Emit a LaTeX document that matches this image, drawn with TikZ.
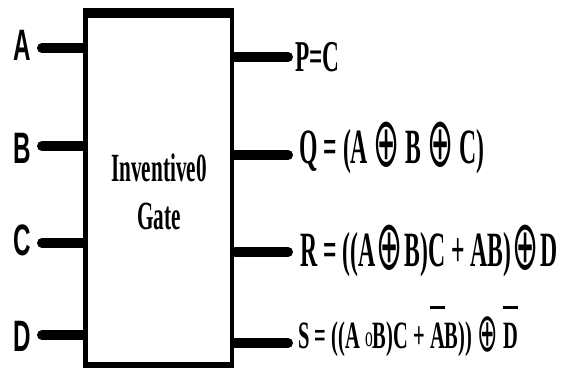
\documentclass[tikz,border=0pt]{standalone}
\usepackage{fontspec}
\usepackage{amsmath}
\usepackage{amssymb}
\usepackage{graphicx}
\setmainfont{Liberation Serif}
\newfontfamily\condserif[FakeStretch=0.48]{Liberation Serif}
\newfontfamily\gatefont[FakeStretch=0.53]{Liberation Serif}
\newfontfamily\pinfont[FakeStretch=0.55]{Liberation Sans}
\newfontfamily\xorfont[FakeStretch=0.55]{DejaVu Sans}
\usetikzlibrary{positioning}
\tikzset{
    gate/.style={rectangle, draw=black, line width=3.4pt, outer sep=0pt, inner sep=0pt, minimum width=109.7pt, minimum height=264pt},
    gatetext/.style={align=center, font=\gatefont\bfseries\fontsize{30}{36}\selectfont, inner sep=0pt},
    pinlabel/.style={font=\pinfont\bfseries\fontsize{33}{33}\selectfont, inner sep=0pt},
    outlabel/.style={anchor=base west, inner sep=0pt, font=\condserif\bfseries\fontsize{37}{37}\selectfont},
    wire/.style={line width=7.5pt, line cap=round, shorten <=2.2pt}
}
\newcommand{\xorop}{\raisebox{-0.08em}{\scalebox{1.15}[1.4]{\xorfont\mdseries ⊕}}}
\newcommand{\smallcirc}{\raisebox{0.05em}{{\fontsize{22}{22}\selectfont\mdseries o}}}
\newcommand{\barred}[1]{{\setbox0\hbox{#1}\rlap{\raisebox{1.02em}{\rule{\wd0}{1.7pt}}}\box0}}
\begin{document}
\begin{tikzpicture}[x=0.75pt, y=-0.75pt]
    \useasboundingbox (0,0) rectangle (571,369);
    % Gate box
    \node[gate] (gatebox) at (158.8,189) {};
    \draw[line width=7.5pt, shorten <=-1.7pt, shorten >=-1.7pt] (gatebox.north west) -- (gatebox.north east);
    \draw[line width=5pt, shorten <=-1.7pt, shorten >=-1.7pt] (gatebox.south west) -- (gatebox.south east);
    \node[gatetext] (gatename) at (159,192) {Inventive0\\Gate};

    % Input wires
    \coordinate (inA) at (42,48);
    \coordinate (inB) at (42,146);
    \coordinate (inC) at (42,243);
    \coordinate (inD) at (42,335);
    \coordinate (gateA) at (gatebox.west |- inA);
    \coordinate (gateB) at (gatebox.west |- inB);
    \coordinate (gateC) at (gatebox.west |- inC);
    \coordinate (gateD) at (gatebox.west |- inD);
    \foreach \p in {A,B,C,D} {
        \draw[wire] (gate\p) -- (in\p);
    }
    \node[pinlabel] (labelA) at (22.5,45) {A};
    \node[pinlabel] (labelB) at (22.5,148) {B};
    \node[pinlabel] (labelC) at (22.5,240) {C};
    \node[pinlabel] (labelD) at (22.5,336) {D};

    % Output wires
    \coordinate (outP) at (288,57);
    \coordinate (outQ) at (288,155);
    \coordinate (outR) at (288,252);
    \coordinate (outS) at (288,343);
    \coordinate (gateP) at (gatebox.east |- outP);
    \coordinate (gateQ) at (gatebox.east |- outQ);
    \coordinate (gateR) at (gatebox.east |- outR);
    \coordinate (gateS) at (gatebox.east |- outS);
    \foreach \p in {P,Q,R,S} {
        \draw[wire] (gate\p) -- (out\p);
    }

    % Output labels
    \node[outlabel, font=\gatefont\bfseries\fontsize{33}{33}\selectfont] (labelP) at (295,71) {P=C};
    \node[outlabel] (labelQ) at (299,163) {Q = (A \xorop\ B \xorop\ C)};
    \node[outlabel] (labelR) at (300,266) {R = ((A\kern1pt\xorop\kern1pt B)C + AB)\kern1pt\xorop\kern1pt D};
    \node[outlabel, font=\gatefont\bfseries\fontsize{29}{29}\selectfont] (labelS) at (298,348) {S = ((A \smallcirc B)C + \barred{A}B)) \xorop\ \barred{D}};
\end{tikzpicture}
\end{document}
